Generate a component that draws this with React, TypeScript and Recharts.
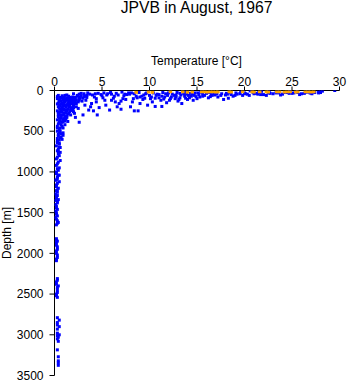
import React from 'react';
import { ScatterChart, Scatter, XAxis, YAxis } from 'recharts';

const FONT = '"Liberation Sans", Arial, Helvetica, sans-serif';

const title = 'JPVB in August, 1967';
const xLabel = 'Temperature [°C]';
const yLabel = 'Depth [m]';

const tempTicks = [0, 5, 10, 15, 20, 25, 30];
const depthTicks = [0, 500, 1000, 1500, 2000, 2500, 3000, 3500];

// [temperature °C, depth m]
const orangeSurface: [number, number][] = [
  [8.6, 22], [9.9, 18], [10.3, 22], [12.2, 15], [13.5, 15], [14.0, 20], [14.5, 18],
  [15.5, 15], [15.8, 15], [16.1, 18], [16.4, 15], [16.7, 15], [17.0, 18], [17.2, 15],
  [18.4, 15], [18.6, 18], [19.8, 15], [20.8, 15], [21.0, 18], [21.6, 15], [22.3, 15],
  [22.5, 18], [23.4, 15], [23.7, 15], [24.2, 18], [24.5, 15], [24.8, 15], [25.4, 18],
  [25.6, 15], [26.4, 15], [26.7, 15], [27.0, 18], [27.3, 15],
];

const blueWarm: [number, number][] = [
  [29.5, 0], [28.2, 8], [27.8, 20], [27.0, 30], [26.5, 22], [26.0, 40], [25.5, 15],
  [25.0, 35], [24.5, 25], [24.0, 45], [23.5, 20], [23.0, 40], [22.5, 30], [22.0, 50],
  [21.5, 25], [21.0, 40], [20.5, 60], [20.0, 30], [25.8, 50], [23.8, 55], [22.3, 60],
  [28.0, 25], [24.8, 8], [21.8, 10], [20.6, 5],
  [19.6, 20], [19.2, 45], [18.8, 70], [18.5, 30], [18.0, 55], [17.6, 40], [17.2, 80],
  [17.0, 25], [16.6, 60], [16.2, 90], [16.0, 35], [15.6, 70], [15.2, 50], [15.0, 100],
  [19.8, 60], [18.3, 95], [17.8, 110], [16.8, 45], [15.4, 20],
];

const blueSurfaceFill: [number, number][] = [
  [5.2, 30], [5.9, 25], [6.5, 35], [7.1, 20], [7.4, 45], [8.1, 30], [8.9, 25], [9.4, 55],
  [10.4, 30], [10.8, 45], [11.4, 25], [11.9, 60], [12.4, 45], [12.9, 25], [13.3, 55],
  [13.9, 45], [14.3, 35], [14.7, 60], [15.1, 30], [15.6, 40], [16.2, 25], [16.5, 50],
  [17.1, 40], [17.5, 60], [18.1, 35], [18.6, 50], [19.1, 30], [19.5, 40], [20.3, 45],
  [21.2, 35], [21.7, 50], [22.6, 15], [23.3, 30], [24.2, 25], [25.2, 30], [26.3, 35],
  [27.4, 25], [28.0, 15], [27.1, 40], [26.8, 20], [9.0, 80], [10.1, 100], [11.0, 90],
  [12.1, 120], [13.1, 110], [14.2, 90], [15.3, 80], [16.4, 75], [6.2, 95], [7.0, 130],
  [4.3, 40], [3.7, 45], [3.1, 40], [2.6, 45],
];

const blueBandFill: [number, number][] = [
  [2.0, 40], [2.8, 35], [3.5, 30], [4.0, 55], [4.6, 35], [5.0, 65], [5.5, 55], [6.0, 45],
  [6.7, 55], [7.3, 65], [7.9, 45], [8.4, 40], [8.7, 90], [9.2, 70], [9.7, 30], [10.2, 80],
  [10.7, 60], [11.3, 70], [11.7, 40], [12.3, 80], [12.8, 55], [13.2, 35], [13.7, 70],
  [14.1, 60], [14.5, 45], [3.2, 70], [2.6, 85], [4.4, 100], [5.3, 120], [6.4, 140],
  [7.5, 110], [8.3, 100], [9.5, 95], [11.5, 105], [12.7, 100], [13.8, 95], [14.9, 75],
  [15.8, 60], [16.9, 55], [18.2, 45], [19.0, 60], [20.1, 40], [20.9, 25], [21.4, 45],
  [22.7, 35], [23.6, 30], [24.7, 35], [25.6, 25], [26.9, 30], [27.8, 30],
];

const blueThermocline: [number, number][] = [
  [14.8, 30], [14.4, 70], [14.0, 110], [13.6, 40], [13.2, 90], [13.0, 130], [12.6, 60],
  [12.2, 100], [12.0, 30], [11.6, 80], [11.2, 120], [11.0, 50], [10.6, 95], [10.3, 140],
  [10.0, 60], [14.6, 120], [13.8, 20], [12.8, 80], [11.8, 150], [10.6, 196], [11.3, 196],
  [13.4, 160],
  [9.6, 40], [9.3, 110], [9.0, 160], [8.8, 250], [8.4, 250], [8.6, 70], [8.2, 140],
  [8.0, 200], [7.6, 50], [7.2, 100], [6.8, 160], [6.6, 200], [6.3, 70], [6.0, 120],
  [5.6, 40], [5.4, 180], [5.1, 90], [7.8, 30], [9.8, 180], [7.0, 230], [5.8, 240],
  [4.9, 50], [4.5, 300], [4.4, 140], [4.2, 80], [4.1, 250], [3.8, 200], [3.6, 240],
  [3.4, 60], [3.2, 180], [3.0, 300], [2.9, 130], [2.7, 90], [2.5, 220], [2.4, 60],
  [2.3, 160], [2.2, 330], [2.1, 110], [2.0, 260], [4.7, 210], [3.9, 160], [3.3, 120],
  [2.6, 390],
];

const blueCold: [number, number][] = [
  [1.9, 80], [1.8, 150], [1.7, 220], [1.6, 110], [1.5, 280], [1.5, 70], [1.4, 180],
  [1.3, 330], [1.2, 120], [1.2, 240], [1.1, 60], [1.0, 300], [1.0, 160], [0.9, 380],
  [0.9, 90], [0.8, 210], [0.8, 440], [0.7, 130], [0.7, 340], [0.6, 260], [0.6, 500],
  [0.5, 180], [0.5, 400], [0.4, 560], [0.4, 300], [0.3, 620], [0.3, 460], [1.7, 300],
  [1.4, 380], [1.1, 420], [0.9, 520], [2.0, 200], [1.6, 160], [1.3, 90], [1.0, 230],
  [0.7, 250], [0.5, 120], [1.8, 100], [1.2, 350], [0.8, 600], [0.6, 700], [0.5, 650],
  [0.4, 750], [2.2, 130],
];

const blueColdFill: [number, number][] = [
  [0.4, 60], [0.8, 65], [1.3, 55], [2.4, 70], [2.8, 65], [3.1, 75], [0.6, 85], [1.0, 80],
  [1.5, 95], [2.2, 85], [2.6, 100], [0.3, 100], [0.9, 110], [1.4, 120], [1.9, 125],
  [2.3, 115], [0.5, 140], [0.8, 150], [1.1, 140], [1.7, 135], [2.1, 150], [2.5, 140],
  [0.3, 165], [0.7, 170], [1.3, 175], [1.6, 190], [2.0, 175], [0.4, 200], [0.9, 195],
  [1.2, 205], [1.8, 210], [2.3, 200], [0.6, 225], [1.0, 240], [1.4, 230], [1.9, 240],
  [0.3, 250], [0.8, 265], [1.2, 270], [1.6, 260], [2.1, 280], [0.5, 290], [0.9, 300],
  [1.3, 310], [0.4, 320], [0.7, 330], [1.0, 345], [0.3, 360], [0.6, 370], [0.8, 390],
  [0.4, 410], [0.7, 420], [0.3, 440], [0.6, 460], [0.5, 480], [0.3, 500], [0.7, 530],
  [0.4, 540], [0.9, 550], [0.6, 580], [0.3, 590], [0.5, 610],
];

const blueColdFill2: [number, number][] = [
  [0.3, 75], [0.7, 95], [1.1, 100], [1.6, 85], [2.0, 100], [2.7, 80], [3.0, 95], [3.4, 85],
  [0.5, 115], [1.0, 125], [1.5, 130], [2.0, 135], [2.6, 120], [0.4, 155], [0.9, 160],
  [1.4, 155], [1.8, 165], [2.2, 160], [0.6, 185], [1.1, 185], [1.5, 200], [2.0, 215],
  [0.5, 215], [0.8, 230], [1.3, 250], [1.7, 245], [0.4, 270], [1.0, 280], [1.4, 290],
  [0.7, 300], [1.1, 320], [0.5, 340], [0.9, 360], [0.5, 385], [1.1, 375], [0.9, 460],
  [0.5, 520], [0.7, 570],
];

const blueDeep: [number, number][] = [
  [0.5, 700], [0.4, 780], [0.3, 820], [0.6, 860], [0.3, 900], [0.5, 950], [0.2, 1000],
  [0.4, 1040], [0.3, 1080], [0.5, 1120], [0.2, 1160], [0.4, 1200], [0.3, 1250],
  [0.2, 1300], [0.4, 1340], [0.3, 1380], [0.2, 1420], [0.3, 1460], [0.2, 1500],
  [0.3, 1540], [0.2, 1580], [0.4, 1620], [0.2, 1650], [0.5, 1040], [0.6, 760],
  [0.1, 1100], [0.1, 1350],
  [0.2, 1820], [0.3, 1850], [0.2, 1900], [0.3, 1950], [0.2, 2000], [0.3, 2050], [0.2, 2090],
  [0.3, 2310], [0.2, 2350], [0.4, 2400], [0.3, 2450], [0.2, 2500], [0.3, 2540],
  [0.3, 2790], [0.5, 2820], [0.3, 2850], [0.5, 2900], [0.3, 2980], [0.5, 3000],
  [0.3, 3050], [0.4, 3080],
  [0.3, 3185], [0.4, 3270], [0.4, 3320], [0.4, 3345], [0.4, 3375],
];

const blueDeepFill: [number, number][] = [
  [0.3, 640], [0.5, 660], [0.2, 680], [0.4, 720], [0.3, 740], [0.5, 800], [0.2, 840],
  [0.4, 880], [0.2, 920], [0.3, 960], [0.4, 980], [0.2, 1020], [0.3, 1060], [0.2, 1100],
  [0.3, 1140], [0.2, 1180], [0.3, 1220], [0.2, 1230], [0.1, 1270], [0.3, 1290],
  [0.2, 1320], [0.3, 1360], [0.1, 1400], [0.2, 1440], [0.1, 1480], [0.2, 1520],
  [0.1, 1560], [0.3, 1600], [0.3, 1630],
  [0.2, 1840], [0.2, 1870], [0.3, 1920], [0.2, 1970], [0.3, 2020], [0.2, 2070],
  [0.3, 2330], [0.2, 2380], [0.3, 2420], [0.3, 2480], [0.2, 2520],
  [0.3, 2880], [0.3, 2930], [0.3, 3010], [0.4, 3030],
];

const toPts = (arr: [number, number][]) => arr.map(([t, d]) => ({ t, d }));

const bluePts = toPts([
  ...blueDeep, ...blueDeepFill, ...blueCold, ...blueColdFill, ...blueColdFill2,
  ...blueThermocline, ...blueSurfaceFill, ...blueBandFill, ...blueWarm,
]);
const orangePts = toPts(orangeSurface);

const BLUE = '#0000ff';
const ORANGE = '#ffa500';

const makeShape = (color: string, w: number, h: number) => (p: any) => {
  if (p == null || p.cx == null || p.cy == null) return <g />;
  return <rect x={p.cx - w / 2} y={p.cy - h / 2} width={w} height={h} fill={color} />;
};

const tickStyle = { fill: '#000', fontSize: 12, fontFamily: FONT };

export default function App() {
  return (
    <div style={{ position: 'absolute', left: 0, top: 0, width: 348, height: 384, fontFamily: FONT }}>
      <div
        style={{
          position: 'absolute',
          left: 54,
          width: 285,
          top: 0,
          textAlign: 'center',
          fontSize: 15.7,
          lineHeight: '15.7px',
          color: '#000',
          whiteSpace: 'nowrap',
        }}
      >
        {title}
      </div>
      <ScatterChart width={348} height={384} margin={{ top: 64.5, right: 8.5, bottom: 8.5, left: 0 }}>
        <XAxis
          type="number"
          dataKey="t"
          orientation="top"
          domain={[0, 30]}
          ticks={tempTicks}
          interval={0}
          height={26}
          tickSize={4}
          tickMargin={1}
          stroke="#000"
          tick={tickStyle}
          tickLine={{ stroke: '#000' }}
          axisLine={{ stroke: '#000' }}
          allowDataOverflow
          label={{
            content: () => (
              <text x={196.5} y={64.5} textAnchor="middle" fontSize={12} fontFamily={FONT} fill="#000">
                {xLabel}
              </text>
            ),
          }}
        />
        <YAxis
          type="number"
          dataKey="d"
          reversed
          domain={[0, 3500]}
          ticks={depthTicks}
          interval={0}
          width={54.5}
          tickSize={5}
          tickMargin={6}
          stroke="#000"
          tick={tickStyle}
          tickLine={{ stroke: '#000' }}
          axisLine={{ stroke: '#000' }}
          allowDataOverflow
          label={{
            content: () => (
              <text
                transform="translate(10.5, 233) rotate(-90)"
                textAnchor="middle"
                fontSize={12}
                fontFamily={FONT}
                fill="#000"
              >
                {yLabel}
              </text>
            ),
          }}
        />
        <Scatter data={bluePts} fill={BLUE} shape={makeShape(BLUE, 3, 3)} isAnimationActive={false} />
        <Scatter data={orangePts} fill={ORANGE} shape={makeShape(ORANGE, 3.5, 3)} isAnimationActive={false} />
      </ScatterChart>
    </div>
  );
}
